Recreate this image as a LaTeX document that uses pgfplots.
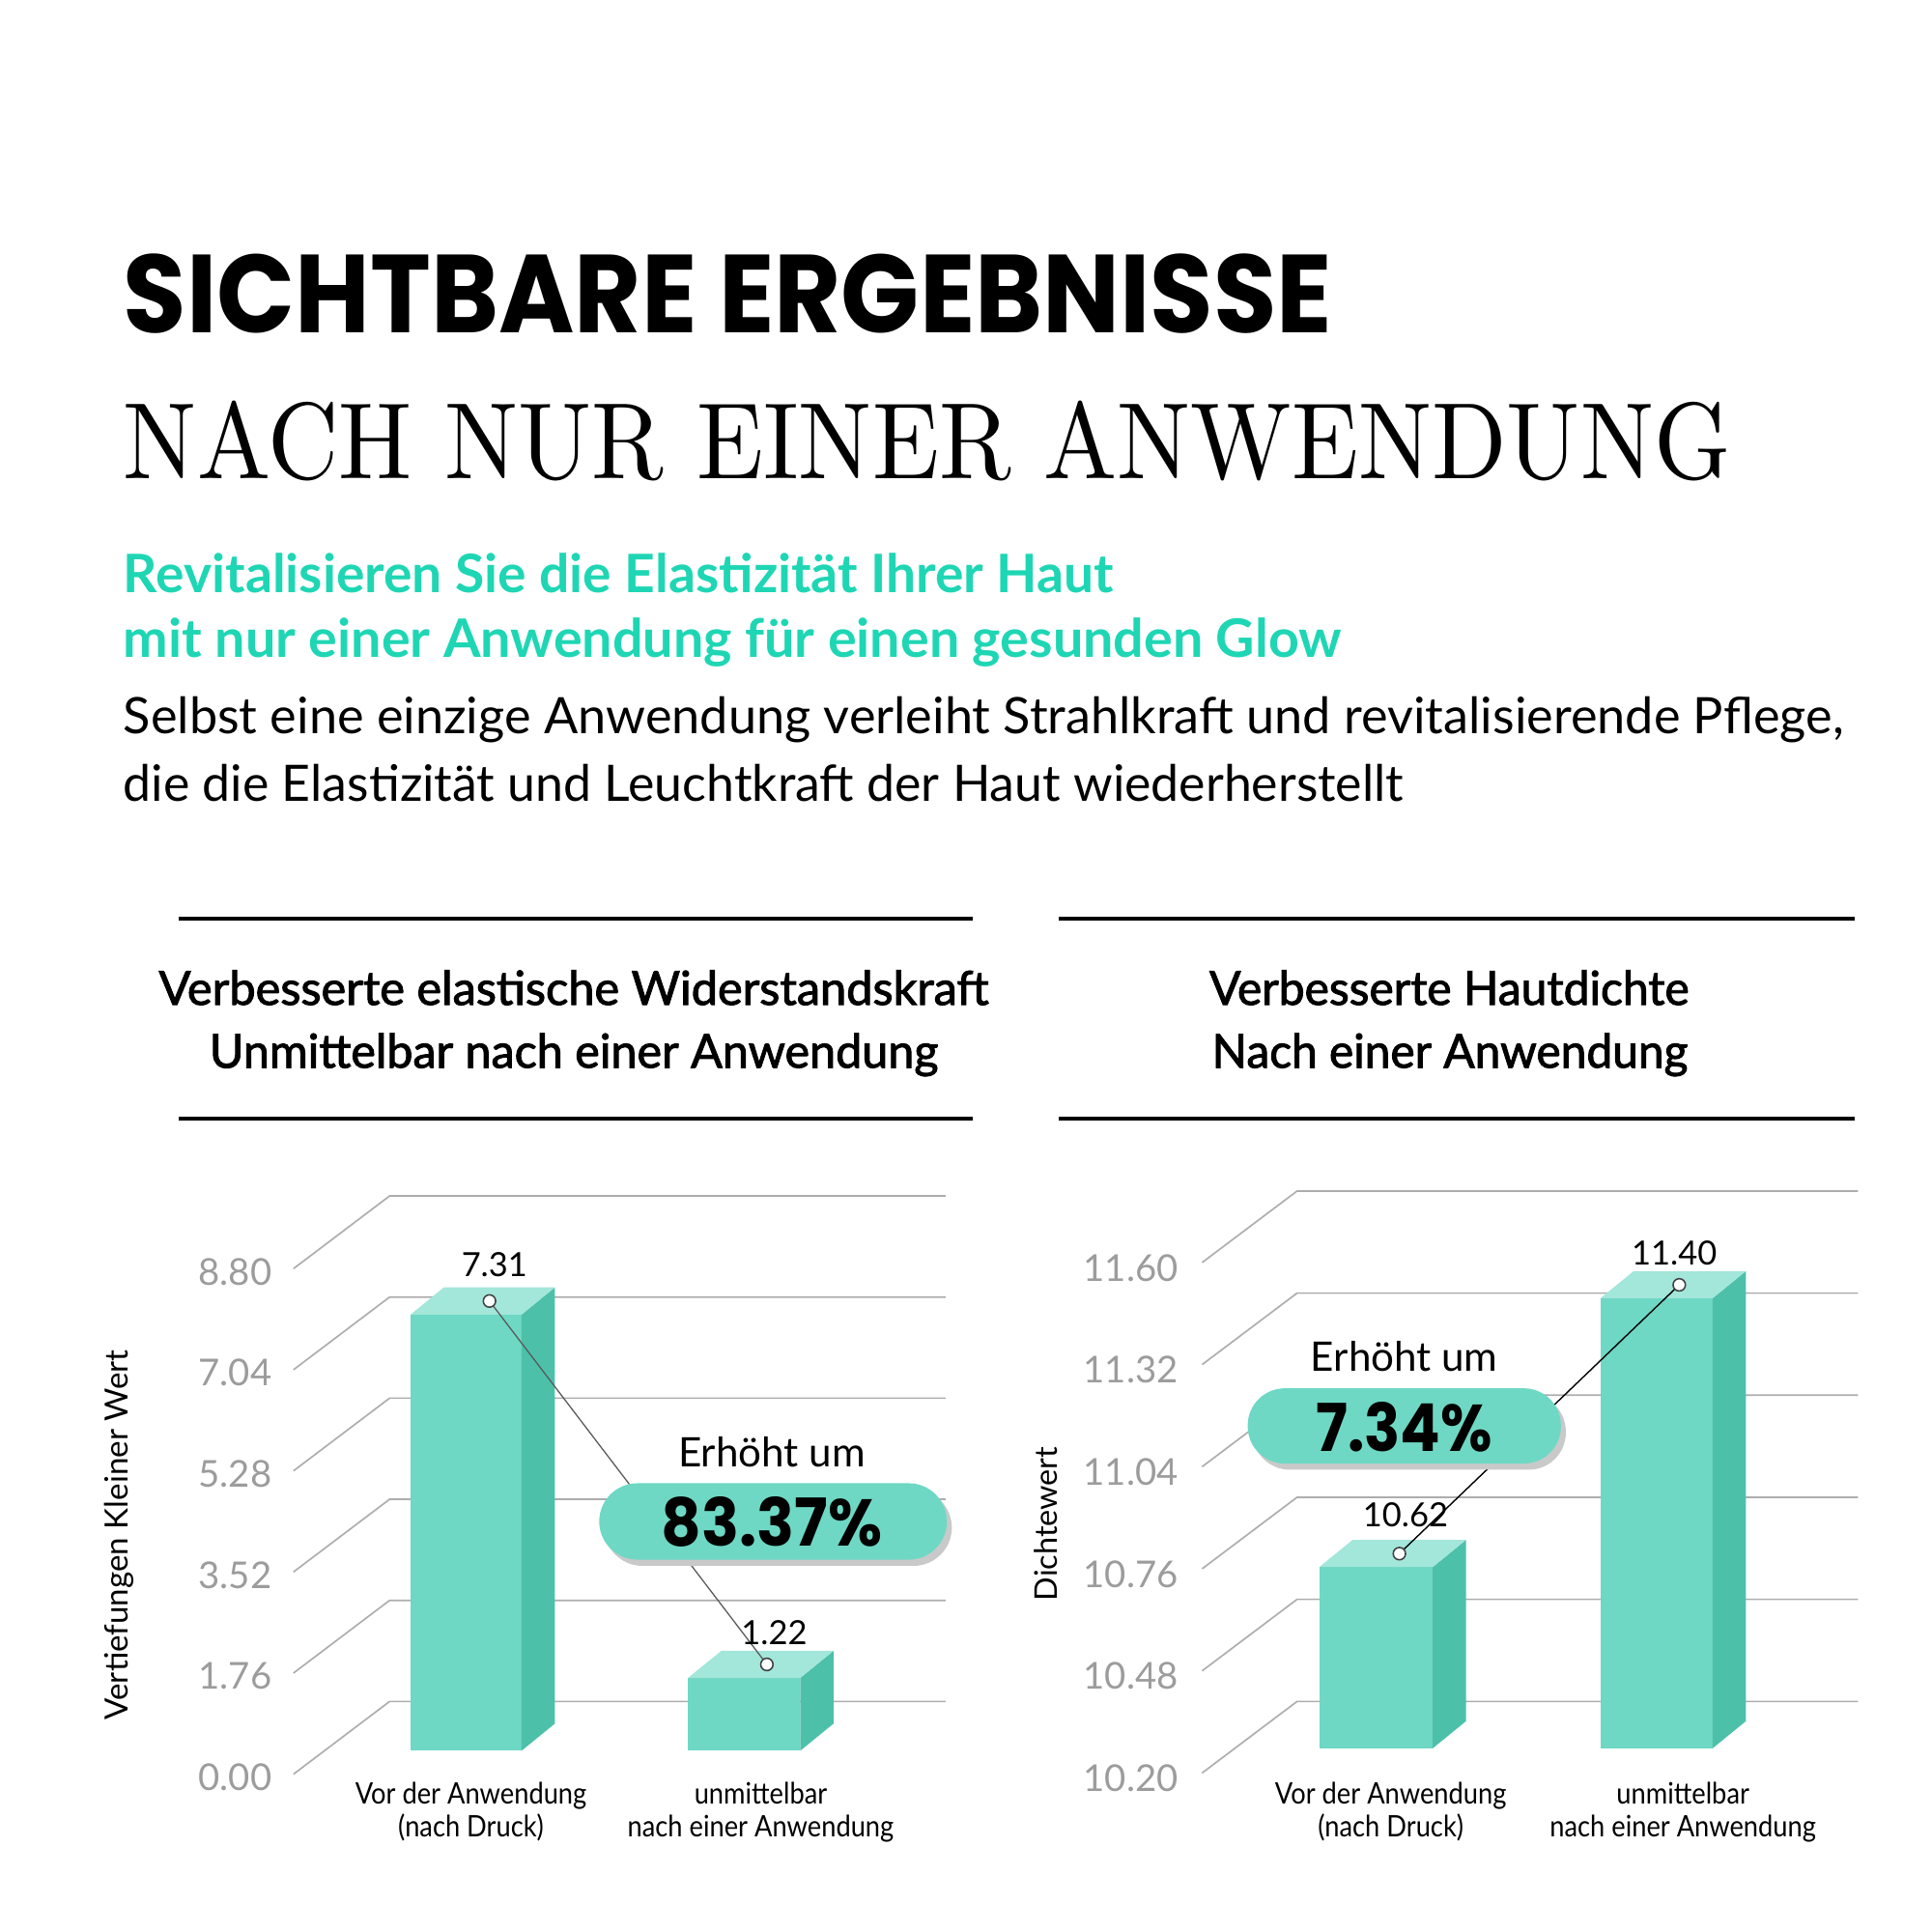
\documentclass[border=0pt]{standalone}
\usepackage{pgfplots}
\pgfplotsset{compat=1.18}
\usepackage{fontspec}
\newfontfamily\lato{Lato}
\newfontfamily\latomed{Lato}[FakeBold=2]
\newfontfamily\pop{Poppins}
\definecolor{tealF}{HTML}{6ED8C4}
\definecolor{tealT}{HTML}{A3E6DA}
\definecolor{tealS}{HTML}{4DC0AA}
\definecolor{tealTxt}{HTML}{1FD6B4}
\definecolor{gridc}{HTML}{ADADAD}
\definecolor{tickc}{HTML}{9C9C9C}
\definecolor{shadowc}{HTML}{C9C9C9}
\pgfplotsset{fake3d/.style={scale only axis, clip=false,
  axis line style={draw=none}, major tick style={draw=none}, major tick length=0pt,
  xtick=\empty,
  yticklabel style={font=\fontsize{30}{30}\lato, text=tickc, xshift=-6pt}}}
\begin{document}
\begin{tikzpicture}
\path[use as bounding box] (0,0) rectangle (1567pt,-1567pt);
% titles
\node[anchor=base west, inner sep=0] at (100pt,-270pt) {\resizebox{980pt}{64pt}{\pop\bfseries SICHTBARE ERGEBNISSE}};
\node[anchor=base west, inner sep=0] at (100pt,-388pt) {\resizebox{1303pt}{63pt}{\rmfamily NACH NUR EINER ANWENDUNG}};
\node[anchor=base west, inner sep=0, text=tealTxt] at (100pt,-481pt) {\resizebox{803pt}{32pt}{\lato\bfseries Revitalisieren Sie die Elastizität Ihrer Haut}};
\node[anchor=base west, inner sep=0, text=tealTxt] at (100pt,-533pt) {\resizebox{988pt}{32pt}{\lato\bfseries mit nur einer Anwendung für einen gesunden Glow}};
\node[anchor=base west, inner sep=0] at (100pt,-595pt) {\resizebox{1395pt}{30pt}{\lato Selbst eine einzige Anwendung verleiht Strahlkraft und revitalisierende Pflege,}};
\node[anchor=base west, inner sep=0] at (100pt,-650pt) {\resizebox{1038pt}{30pt}{\lato die die Elastizität und Leuchtkraft der Haut wiederherstellt}};
% panel rules
\draw[line width=3pt] (145pt,-745pt) -- (789pt,-745pt);
\draw[line width=3pt] (145pt,-907pt) -- (789pt,-907pt);
\draw[line width=3pt] (859pt,-745pt) -- (1504pt,-745pt);
\draw[line width=3pt] (859pt,-907pt) -- (1504pt,-907pt);
% panel titles
\node[anchor=base, inner sep=0] at (465.5pt,-815pt) {\resizebox{673pt}{28pt}{\latomed Verbesserte elastische Widerstandskraft}};
\node[anchor=base, inner sep=0] at (465.5pt,-866pt) {\resizebox{591pt}{28pt}{\latomed Unmittelbar nach einer Anwendung}};
\node[anchor=base, inner sep=0] at (1175.5pt,-815pt) {\resizebox{389pt}{28pt}{\latomed Verbesserte Hautdichte}};
\node[anchor=base, inner sep=0] at (1176pt,-866pt) {\resizebox{386pt}{28pt}{\latomed Nach einer Anwendung}};

% ---------------- left chart
\begin{axis}[fake3d, at={(230pt,-1460pt)}, anchor=south west,
  width=540pt, height=500pt, xmin=230, xmax=770, ymin=-0.8264, ymax=9.5041,
  ytick={-0.4426,1.2517,2.9459,4.6401,6.3343,8.0285},
  yticklabels={0.00,1.76,3.52,5.28,7.04,8.80}]
\addplot[gridc, line width=1.3pt] coordinates {(238,8.0785)(316,9.2975)(767,9.2975)};
\addplot[gridc, line width=1.3pt] coordinates {(238,6.3843)(316,7.6033)(767,7.6033)};
\addplot[gridc, line width=1.3pt] coordinates {(238,4.6901)(316,5.9091)(767,5.9091)};
\addplot[gridc, line width=1.3pt] coordinates {(238,2.9959)(316,4.2149)(767,4.2149)};
\addplot[gridc, line width=1.3pt] coordinates {(238,1.3017)(316,2.5207)(767,2.5207)};
\addplot[gridc, line width=1.3pt] coordinates {(238,-0.3926)(316,0.8264)(767,0.8264)};
% bar 1: 7.31
\addplot[fill=tealF, draw=none] coordinates {(333,0)(423,0)(423,7.31)(333,7.31)} --cycle;
\addplot[fill=tealS, draw=none] coordinates {(423,0)(450,0.4545)(450,7.7645)(423,7.31)} --cycle;
\addplot[fill=tealT, draw=none] coordinates {(333,7.31)(360,7.7645)(450,7.7645)(423,7.31)} --cycle;
% bar 2: 1.22
\addplot[fill=tealF, draw=none] coordinates {(558,0)(649,0)(649,1.22)(558,1.22)} --cycle;
\addplot[fill=tealS, draw=none] coordinates {(649,0)(676,0.4545)(676,1.6745)(649,1.22)} --cycle;
\addplot[fill=tealT, draw=none] coordinates {(558,1.22)(585,1.6745)(676,1.6745)(649,1.22)} --cycle;
\addplot[color=black!65, line width=1pt] coordinates {(397,7.537)(622,1.447)};
\addplot[only marks, mark=*, mark size=5pt, mark options={fill=white, draw=black!75, line width=1.2pt}] coordinates {(397,7.537)(622,1.447)};
\node[font=\fontsize{27}{27}\lato] at (axis cs:401,8.15) {7.31};
\node[font=\fontsize{27}{27}\lato] at (axis cs:628,1.98) {1.22};
\end{axis}

% ---------------- right chart
\begin{axis}[fake3d, at={(965pt,-1460pt)}, anchor=south west,
  width=545pt, height=500pt, xmin=965, xmax=1510, ymin=9.9438, ymax=11.7327,
  ytick={10.0075,10.3038,10.6000,10.8962,11.1925,11.4887},
  yticklabels={10.20,10.48,10.76,11.04,11.32,11.60}]
\addplot[gridc, line width=1.3pt] coordinates {(975,11.5037)(1052,11.7112)(1507,11.7112)};
\addplot[gridc, line width=1.3pt] coordinates {(975,11.2075)(1052,11.4150)(1507,11.4150)};
\addplot[gridc, line width=1.3pt] coordinates {(975,10.9112)(1052,11.1187)(1507,11.1187)};
\addplot[gridc, line width=1.3pt] coordinates {(975,10.6150)(1052,10.8225)(1507,10.8225)};
\addplot[gridc, line width=1.3pt] coordinates {(975,10.3188)(1052,10.5263)(1507,10.5263)};
\addplot[gridc, line width=1.3pt] coordinates {(975,10.0225)(1052,10.2300)(1507,10.2300)};
% bar 1: 10.62
\addplot[fill=tealF, draw=none] coordinates {(1070,10.094)(1162,10.094)(1162,10.62)(1070,10.62)} --cycle;
\addplot[fill=tealS, draw=none] coordinates {(1162,10.094)(1189,10.1727)(1189,10.6987)(1162,10.62)} --cycle;
\addplot[fill=tealT, draw=none] coordinates {(1070,10.62)(1097,10.6987)(1189,10.6987)(1162,10.62)} --cycle;
% bar 2: 11.40
\addplot[fill=tealF, draw=none] coordinates {(1298,10.094)(1389,10.094)(1389,11.40)(1298,11.40)} --cycle;
\addplot[fill=tealS, draw=none] coordinates {(1389,10.094)(1416,10.1727)(1416,11.4787)(1389,11.40)} --cycle;
\addplot[fill=tealT, draw=none] coordinates {(1298,11.40)(1325,11.4787)(1416,11.4787)(1389,11.40)} --cycle;
\addplot[color=black, line width=1.1pt] coordinates {(1135,10.659)(1362,11.439)};
\addplot[only marks, mark=*, mark size=5pt, mark options={fill=white, draw=black!75, line width=1.2pt}] coordinates {(1135,10.659)(1362,11.439)};
\node[font=\fontsize{27}{27}\lato] at (axis cs:1140,10.772) {10.62};
\node[font=\fontsize{27}{27}\lato] at (axis cs:1358,11.532) {11.40};
\end{axis}

% axis titles
\node[rotate=90, inner sep=0] at (97pt,-1245pt) {\resizebox{300pt}{!}{\lato Vertiefungen Kleiner Wert}};
\node[rotate=90, inner sep=0] at (848pt,-1236pt) {\resizebox{125pt}{!}{\lato Dichtewert}};
% category labels
\foreach \cx/\la/\lb in {382/Vor der Anwendung/(nach Druck), 617/unmittelbar/nach einer Anwendung, 1128/Vor der Anwendung/(nach Druck), 1365/unmittelbar/nach einer Anwendung}{
  \node[anchor=base, inner sep=0] at (\cx pt,-1463pt) {\scalebox{0.89}[1]{\fontsize{24}{24}\lato \la}};
  \node[anchor=base, inner sep=0] at (\cx pt,-1490pt) {\scalebox{0.89}[1]{\fontsize{24}{24}\lato \lb}};
}
% badges
\fill[shadowc, rounded corners=31pt] (490pt,-1208pt) rectangle (772pt,-1270pt);
\fill[tealF, rounded corners=31pt] (486pt,-1203pt) rectangle (768pt,-1265pt);
\node[anchor=base, inner sep=0] at (626pt,-1190pt) {\fontsize{33}{33}\lato Erhöht um};
\node[anchor=base, inner sep=0] at (626pt,-1254pt) {\resizebox{179pt}{40pt}{\pop\bfseries 83.37\%}};
\fill[shadowc, rounded corners=30pt] (1016pt,-1131pt) rectangle (1270pt,-1192pt);
\fill[tealF, rounded corners=30pt] (1012pt,-1126pt) rectangle (1266pt,-1187pt);
\node[anchor=base, inner sep=0] at (1139pt,-1112pt) {\fontsize{33}{33}\lato Erhöht um};
\node[anchor=base, inner sep=0] at (1139pt,-1177pt) {\resizebox{143pt}{40pt}{\pop\bfseries 7.34\%}};
\end{tikzpicture}
\end{document}
